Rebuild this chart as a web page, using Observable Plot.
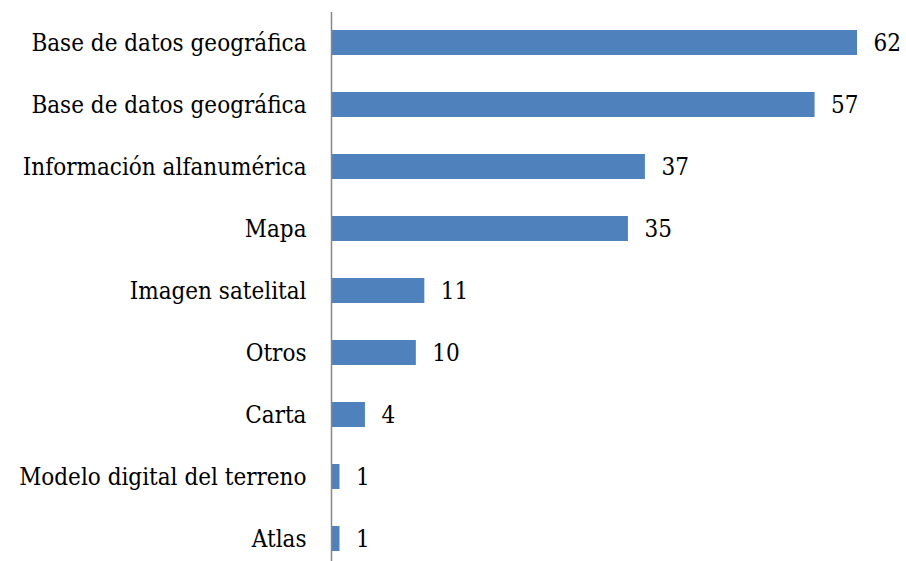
<!DOCTYPE html>
<html>
<head>
<meta charset="utf-8">
<script src="https://cdn.jsdelivr.net/npm/d3@7"></script>
<script src="https://cdn.jsdelivr.net/npm/@observablehq/plot@0.6"></script>
<style>
  html, body { margin: 0; padding: 0; background: #fff; }
  #chart svg { display: block; font-stretch: condensed; }
</style>
</head>
<body>
<div id="chart"></div>
<script>
const categories = [
  "Base de datos geográfica",
  "Base de datos geográfica",
  "Información alfanumérica",
  "Mapa",
  "Imagen satelital",
  "Otros",
  "Carta",
  "Modelo digital del terreno",
  "Atlas"
];
const values = [62, 57, 37, 35, 11, 10, 4, 1, 1];

const data = categories.map((c, i) => ({idx: i, label: c, value: values[i]}));

const chart = Plot.plot({
  width: 906,
  height: 561,
  marginLeft: 331,
  marginRight: 49,
  marginTop: 12,
  marginBottom: 0,
  style: {fontFamily: "'DejaVu Serif Condensed', 'DejaVu Serif', serif", fontSize: "24px", color: "#000", background: "#fff"},
  x: {domain: [0, 62], axis: null},
  y: {
    domain: data.map(d => d.idx),
    range: [11.5, 569.5],
    paddingInner: 0.6,
    paddingOuter: 0.3,
    label: null,
    tickSize: 0,
    tickPadding: 25,
    fontSize: 24,
    tickFormat: i => categories[i]
  },
  marks: [
    Plot.barX(data, {x: "value", y: "idx", fill: "#4F81BD", insetLeft: 1}),
    Plot.ruleX([0], {stroke: "#888888", strokeWidth: 1.5}),
    Plot.text(data, {x: "value", y: "idx", text: d => String(d.value), textAnchor: "start", dx: 16, fill: "#000", fontSize: 24})
  ]
});
document.getElementById("chart").appendChild(chart);
</script>
</body>
</html>
